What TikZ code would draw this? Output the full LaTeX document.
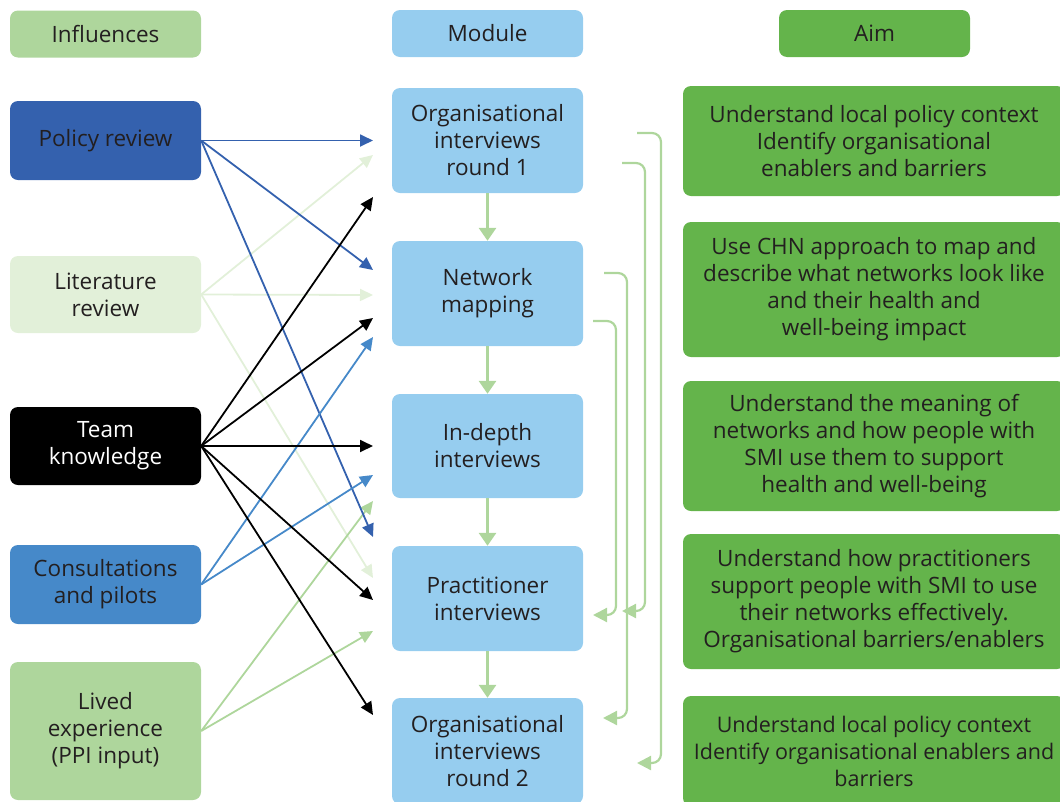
\documentclass[tikz,border=0pt]{standalone}
\usepackage{fontspec}
\setmainfont{Open Sans}
\usetikzlibrary{arrows.meta}
\definecolor{txt}{HTML}{231F20}
\definecolor{dblue}{HTML}{3461AE}
\definecolor{mblue}{HTML}{4689C9}
\definecolor{lblue}{HTML}{96CDEF}
\definecolor{pgreen}{HTML}{E2F0D9}
\definecolor{lgreen}{HTML}{AED69C}
\definecolor{agreen}{HTML}{64B44B}
\tikzset{
  box/.style={rounded corners=8pt, minimum width=191pt, align=center, inner sep=0pt,
    text=txt, font=\fontsize{22.5}{27}\selectfont},
  infl/.style={box, fill=lgreen},
  modl/.style={box, fill=lblue},
  aimh/.style={box, fill=agreen},
  aimb/.style={box, fill=agreen, minimum width=382pt},
  conn/.style={line width=1.8pt, -{Triangle[length=13pt,width=12pt]}},
  down/.style={line width=3pt, draw=lgreen, -{Triangle[length=13pt,width=17pt]}, shorten >=0pt},
  fb/.style={line width=2.2pt, draw=lgreen, rounded corners=9pt, -{Triangle[length=14pt,width=14pt]}},
}
\begin{document}
\begin{tikzpicture}[x=1pt,y=-1pt]
\useasboundingbox (0,0) rectangle (1060,801);
% left column
\node[infl, minimum height=47pt] (hinf) at (105.5,34) {Influences};
\node[box, fill=dblue, minimum height=79pt] (pr) at (105.5,140.5) {Policy review};
\node[box, fill=pgreen, minimum height=77pt] (lr) at (105.5,294.5) {Literature\\review};
\node[box, fill=black, text=white, minimum height=78pt] (tk) at (105.5,446) {Team\\knowledge};
\node[box, fill=mblue, minimum height=79pt] (cp) at (105.5,584.5) {Consultations\\and pilots};
\node[infl, minimum height=138pt] (le) at (105.5,731) {Lived\\experience\\(PPI input)};
% middle column
\node[modl, minimum height=47pt] (hmod) at (487.5,33.5) {Module};
\node[modl, minimum height=105pt] (m1) at (487.5,140.5) {Organisational\\interviews\\round 1};
\node[modl, minimum height=105pt] (m2) at (487.5,293.5) {Network\\mapping};
\node[modl, minimum height=104pt] (m3) at (487.5,446) {In-depth\\interviews};
\node[modl, minimum height=105pt] (m4) at (487.5,598.5) {Practitioner\\interviews};
\node[modl, minimum height=106pt] (m5) at (487.5,751) {Organisational\\interviews\\round 2};
% right column
\node[aimh, minimum height=47pt] (haim) at (874.5,33.5) {Aim};
\node[aimb, minimum height=110pt] (a1) at (874,141) {Understand local policy context\\Identify organisational\\enablers and barriers};
\node[aimb, minimum height=135pt] (a2) at (874,289.5) {Use CHN approach to map and\\describe what networks look like\\and their health and\\well-being impact};
\node[aimb, minimum height=130pt] (a3) at (874,446) {Understand the meaning of\\networks and how people with\\SMI use them to support\\health and well-being};
\node[aimb, minimum height=135pt] (a4) at (874,601.5) {Understand how practitioners\\support people with SMI to use\\their networks effectively.\\Organisational barriers/enablers};
\node[aimb, minimum height=110pt, font=\fontsize{21.5}{27}\selectfont] (a5) at (874,751) {Understand local policy context\\Identify organisational enablers and\\barriers};
% arrow tips
\coordinate (t1) at (373,140.5);
\coordinate (t2) at (373,155);
\coordinate (t3) at (373,197);
\coordinate (t4) at (373,270);
\coordinate (t5) at (373,295);
\coordinate (t6) at (373,318);
\coordinate (t7) at (373,337);
\coordinate (t8) at (373,446);
\coordinate (t9) at (373,475);
\coordinate (t10) at (373,501);
\coordinate (t11) at (373,537);
\coordinate (t12) at (373,578);
\coordinate (t13) at (373,600);
\coordinate (t14) at (373,631);
\coordinate (t15) at (373,715);
% connectors (back to front)
\draw[conn, pgreen] (lr.east) -- (t2);
\draw[conn, pgreen] (lr.east) -- (t5);
\draw[conn, pgreen] (lr.east) -- (t12);
\draw[conn, lgreen] (le.east) -- (t10);
\draw[conn, lgreen] (le.east) -- (t14);
\draw[conn, dblue] (pr.east) -- (t1);
\draw[conn, dblue] (pr.east) -- (t4);
\draw[conn, dblue] (pr.east) -- (t11);
\draw[conn, mblue] (cp.east) -- (t7);
\draw[conn, mblue] (cp.east) -- (t9);
\draw[conn, black] (tk.east) -- (t3);
\draw[conn, black] (tk.east) -- (t6);
\draw[conn, black] (tk.east) -- (t8);
\draw[conn, black] (tk.east) -- (t13);
\draw[conn, black] (tk.east) -- (t15);
% module sequence
\draw[down] (m1.south) -- (m2.north);
\draw[down] (m2.south) -- (m3.north);
\draw[down] (m3.south) -- (m4.north);
\draw[down] (m4.south) -- (m5.north);
% feedback arrows
\coordinate (s1) at (637,133);
\coordinate (e1) at (637,763);
\coordinate (s2) at (622,163);
\coordinate (e2) at (622,611);
\coordinate (s3) at (604,273);
\coordinate (e3) at (603,718);
\coordinate (s4) at (593,321);
\coordinate (e4) at (593,615);
\draw[fb] (s1) -- ++(24,0) |- (e1);
\draw[fb] (s2) -- ++(23,0) |- (e2);
\draw[fb] (s3) -- ++(23,0) |- (e3);
\draw[fb] (s4) -- ++(23,0) |- (e4);
\end{tikzpicture}
\end{document}
